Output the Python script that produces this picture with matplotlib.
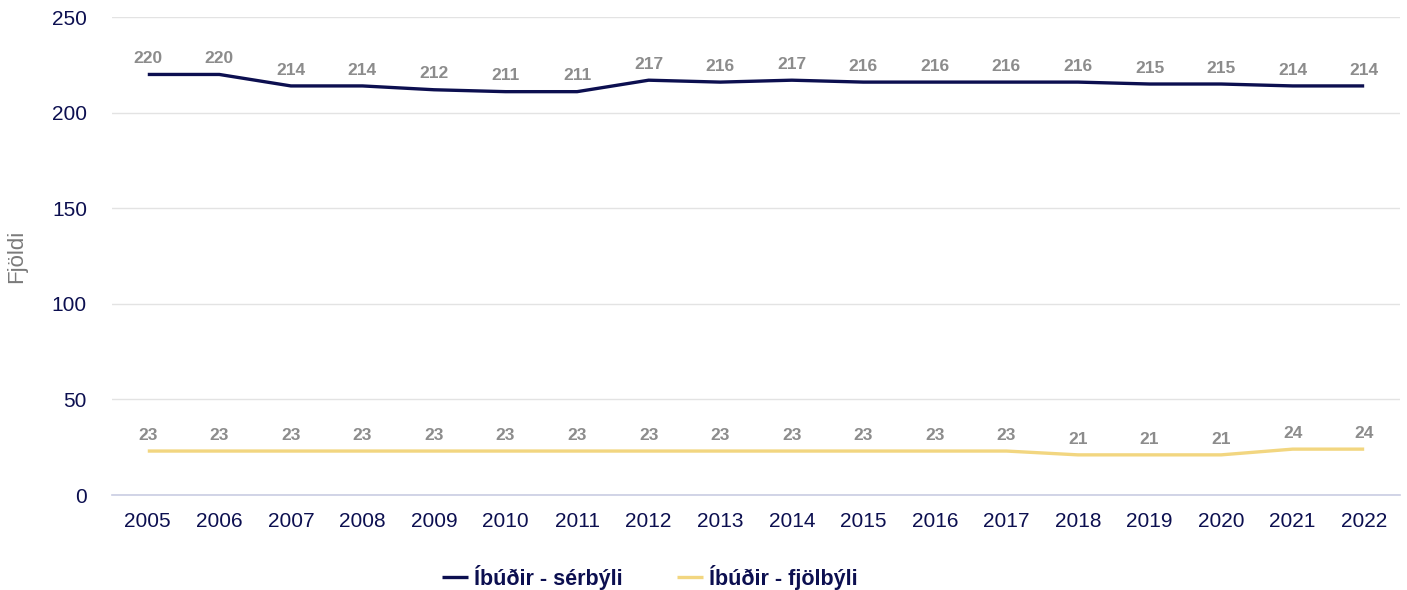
import matplotlib
matplotlib.use('Agg')
import matplotlib.pyplot as plt

years = ['2005', '2006', '2007', '2008', '2009', '2010', '2011', '2012', '2013',
         '2014', '2015', '2016', '2017', '2018', '2019', '2020', '2021', '2022']
serbyli = [220, 220, 214, 214, 212, 211, 211, 217, 216, 217, 216, 216, 216, 216, 215, 215, 214, 214]
fjolbyli = [23, 23, 23, 23, 23, 23, 23, 23, 23, 23, 23, 23, 23, 21, 21, 21, 24, 24]

navy = '#0c0f50'
yellow = '#f2d680'
label_grey = '#8c8c8c'

plt.rcParams['font.family'] = ['Liberation Sans', 'DejaVu Sans']

fig = plt.figure(figsize=(14.07, 5.9), dpi=100)
ax = fig.add_axes([0.0796, 0.161, 0.9154, 0.810])

x = list(range(len(years)))
ax.plot(x, serbyli, color=navy, lw=2.4, label='Íbúðir - sérbýli', solid_capstyle='butt')
ax.plot(x, fjolbyli, color=yellow, lw=2.4, label='Íbúðir - fjölbýli', solid_capstyle='butt')

for series in (serbyli, fjolbyli):
    for xi, v in zip(x, series):
        ax.annotate(str(v), (xi, v), xytext=(0, 6), textcoords='offset points',
                    ha='center', va='bottom', fontsize=12.5, fontweight='bold',
                    color=label_grey)

ax.set_xlim(-0.5, len(years) - 0.5)
ax.set_ylim(0, 250)
ax.set_yticks([0, 50, 100, 150, 200, 250])
ax.set_xticks(x)
ax.set_xticklabels(years)
ax.tick_params(axis='both', length=0, labelsize=15, labelcolor=navy)
ax.tick_params(axis='x', pad=12)
ax.tick_params(axis='y', pad=18)

ax.grid(axis='y', color='#e3e3e3', lw=1)
ax.set_axisbelow(True)
for s in ['top', 'right', 'left']:
    ax.spines[s].set_visible(False)
ax.spines['bottom'].set_color('#c9cde3')
ax.spines['bottom'].set_linewidth(1.2)

ax.set_ylabel('Fjöldi', fontsize=16, color='#7a7a7a')
ax.yaxis.set_label_coords(-0.066, 0.5)

leg = fig.legend(loc='center', bbox_to_anchor=(0.462, 0.022), ncol=2, frameon=False,
                 prop={'weight': 'bold', 'size': 15.5}, handlelength=1.2, handletextpad=0.3,
                 columnspacing=2.5)
for t in leg.get_texts():
    t.set_color(navy)

fig.savefig('out.png', dpi=100)
